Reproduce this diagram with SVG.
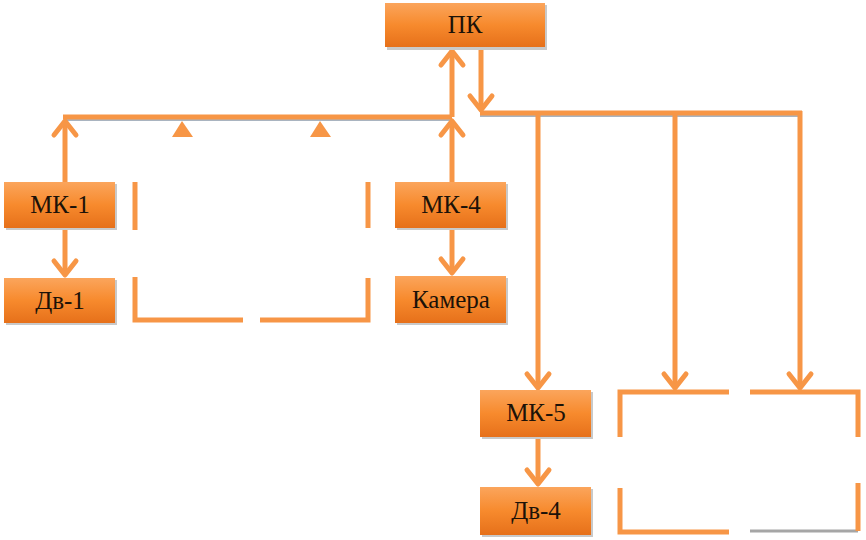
<svg xmlns="http://www.w3.org/2000/svg" width="866" height="540" viewBox="0 0 866 540">
<defs>
<linearGradient id="g" x1="0" y1="0" x2="0" y2="1">
<stop offset="0" stop-color="#fba55c"/>
<stop offset="0.5" stop-color="#f78a2d"/>
<stop offset="1" stop-color="#e6701a"/>
</linearGradient>
<marker id="ah" markerUnits="userSpaceOnUse" viewBox="-4 -15 22 30" markerWidth="22" markerHeight="30" refX="14" refY="0" orient="auto">
<path d="M0,-11 L14,0 L0,11" fill="none" stroke="#f79646" stroke-width="5" stroke-linecap="round" stroke-linejoin="round"/>
</marker>
</defs>
<style>
.box{fill:url(#g);}
.sh{fill:#c9c9c9;}
.t{font-family:"Liberation Serif","Times New Roman",serif;font-size:25px;fill:#1c1208;text-anchor:middle;}
.ln{stroke:#f79646;stroke-width:5;fill:none;}
.shl{stroke:#a9b4c0;stroke-width:2;fill:none;}
.tri{fill:#f79646;}
</style>
<g id="connectors">
<line class="shl" x1="66" y1="120" x2="452" y2="120"/>
<line class="shl" x1="480" y1="116" x2="800" y2="116"/>
<line class="ln" x1="63" y1="117" x2="452" y2="117"/>
<line class="ln" x1="65" y1="182" x2="65" y2="121" marker-end="url(#ah)"/>
<line class="ln" x1="65" y1="228" x2="65" y2="275" marker-end="url(#ah)"/>
<line class="ln" x1="452" y1="182" x2="452" y2="121" marker-end="url(#ah)"/>
<line class="ln" x1="452" y1="117" x2="452" y2="51" marker-end="url(#ah)"/>
<line class="ln" x1="452" y1="228" x2="452" y2="273" marker-end="url(#ah)"/>
<line class="ln" x1="481" y1="47" x2="481" y2="110" marker-end="url(#ah)"/>
<line class="ln" x1="480" y1="113" x2="802" y2="113"/>
<line class="ln" x1="538" y1="113" x2="538" y2="388" marker-end="url(#ah)"/>
<line class="ln" x1="675" y1="113" x2="675" y2="388" marker-end="url(#ah)"/>
<line class="ln" x1="800" y1="111" x2="800" y2="388" marker-end="url(#ah)"/>
<line class="ln" x1="538" y1="437" x2="538" y2="484" marker-end="url(#ah)"/>
<polygon class="tri" points="182,121 172,137 193,137"/>
<polygon class="tri" points="320,121 310,137 331,137"/>
</g>
<g id="empty-brackets">
<line class="ln" x1="135" y1="182" x2="135" y2="230"/>
<line class="ln" x1="368" y1="182" x2="368" y2="228"/>
<polyline class="ln" points="135,277 135,320 243,320"/>
<polyline class="ln" points="260,320 368,320 368,278"/>
<polyline class="ln" points="620,437 620,392 729,392"/>
<polyline class="ln" points="750,392 858,392 858,437"/>
<polyline class="ln" points="620,488 620,532 729,532"/>
<line x1="750" y1="531" x2="858" y2="531" stroke="#a6a6a6" stroke-width="3"/>
<line class="ln" x1="858" y1="483" x2="858" y2="531"/>
</g>
<g id="pk">
<rect class="sh" x="387" y="5" width="160" height="45"/>
<rect class="box" x="385" y="3" width="160" height="44"/>
<text class="t" x="465" y="33">ПК</text>
</g>
<g id="mk1">
<rect class="sh" x="6" y="184" width="111" height="46"/>
<rect class="box" x="4" y="182" width="111" height="46"/>
<text class="t" x="60" y="213">МК-1</text>
</g>
<g id="dv1">
<rect class="sh" x="6" y="280" width="111" height="45"/>
<rect class="box" x="4" y="278" width="111" height="45"/>
<text class="t" x="60" y="309">Дв-1</text>
</g>
<g id="mk4">
<rect class="sh" x="397" y="184" width="111" height="46"/>
<rect class="box" x="395" y="182" width="111" height="46"/>
<text class="t" x="451" y="213">МК-4</text>
</g>
<g id="camera">
<rect class="sh" x="397" y="278" width="111" height="47"/>
<rect class="box" x="395" y="276" width="111" height="47"/>
<text class="t" x="451" y="308">Камера</text>
</g>
<g id="mk5">
<rect class="sh" x="482" y="392" width="111" height="47"/>
<rect class="box" x="480" y="390" width="111" height="47"/>
<text class="t" x="536" y="421">МК-5</text>
</g>
<g id="dv4">
<rect class="sh" x="482" y="489" width="111" height="48"/>
<rect class="box" x="480" y="487" width="111" height="48"/>
<text class="t" x="536" y="519">Дв-4</text>
</g>
</svg>
